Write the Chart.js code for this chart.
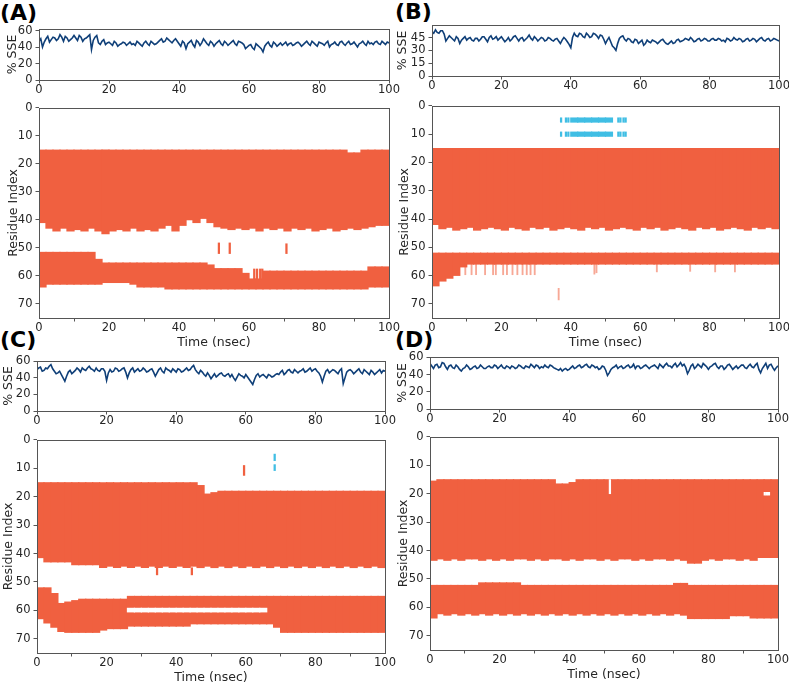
<!DOCTYPE html>
<html>
<head>
<meta charset="utf-8">
<script src="https://cdn.jsdelivr.net/npm/chart.js@4.4.0/dist/chart.umd.min.js"></script>
<style>
  body { margin: 0; background: #fff; }
  #fig { position: relative; width: 789px; height: 688px; overflow: hidden; background: #fff; }
  .box { position: absolute; }
  .tag { position: absolute; font-family: "DejaVu Sans"; font-weight: bold; font-size: 22px; line-height: 22px; color: #000; }
</style>
</head>
<body>
<div id="fig">
  <div class="tag" style="left:0px;top:2px">(A)</div>
  <div class="tag" style="left:395px;top:1px">(B)</div>
  <div class="tag" style="left:0px;top:329px">(C)</div>
  <div class="tag" style="left:395px;top:329px">(D)</div>
</div>
<script>
// time axis of the % SSE traces (nsec)
var timeNs = [0,0.5,1,1.5,2,2.5,3,3.5,4,4.5,5,5.5,6,6.5,7,7.5,8,8.5,9,9.5,
  10,10.5,11,11.5,12,12.5,13,13.5,14,14.5,15,15.5,16,16.5,17,17.5,18,18.5,19,19.5,
  20,20.5,21,21.5,22,22.5,23,23.5,24,24.5,25,25.5,26,26.5,27,27.5,28,28.5,29,29.5,
  30,30.5,31,31.5,32,32.5,33,33.5,34,34.5,35,35.5,36,36.5,37,37.5,38,38.5,39,39.5,
  40,40.5,41,41.5,42,42.5,43,43.5,44,44.5,45,45.5,46,46.5,47,47.5,48,48.5,49,49.5,
  50,50.5,51,51.5,52,52.5,53,53.5,54,54.5,55,55.5,56,56.5,57,57.5,58,58.5,59,59.5,
  60,60.5,61,61.5,62,62.5,63,63.5,64,64.5,65,65.5,66,66.5,67,67.5,68,68.5,69,69.5,
  70,70.5,71,71.5,72,72.5,73,73.5,74,74.5,75,75.5,76,76.5,77,77.5,78,78.5,79,79.5,
  80,80.5,81,81.5,82,82.5,83,83.5,84,84.5,85,85.5,86,86.5,87,87.5,88,88.5,89,89.5,
  90,90.5,91,91.5,92,92.5,93,93.5,94,94.5,95,95.5,96,96.5,97,97.5,98,98.5,99,99.5,
  100];

// % SSE per panel
var sseA = [47,50,40,46,50,53,46,49,52,51, 48,50,55,52,47,53,51,47,49,51,
  54,51,48,54,52,47,50,51,53,55, 37,48,52,54,45,43,47,49,43,45,
  46,44,42,47,45,41,43,44,46,45, 42,44,46,43,44,42,47,45,43,41,
  45,47,44,42,47,45,43,44,46,48, 50,46,47,51,49,47,45,48,50,47,
  44,41,47,45,38,44,46,48,43,40, 48,46,42,45,50,47,44,42,47,45,
  41,44,46,48,44,42,47,45,42,44, 46,48,44,42,47,46,45,43,38,40,
  42,43,39,37,44,42,40,38,34,41, 44,46,42,40,46,44,41,43,45,42,
  44,46,42,44,45,42,43,45,46,44, 41,43,45,47,44,42,47,45,43,41,
  46,45,44,42,45,47,40,43,44,46, 43,42,46,47,44,42,45,47,43,44,
  46,43,40,44,45,47,44,42,47,44, 45,43,46,47,44,43,47,45,43,46,
  45];
var sseB = [52,50,54,51,50,53,53,49,41,44, 47,45,43,41,46,44,38,42,44,46,
  42,44,45,42,41,44,44,41,43,46, 46,43,40,45,47,43,44,46,42,44,
  46,43,40,42,45,41,43,46,47,44, 41,44,45,41,43,45,48,44,42,46,
  44,41,43,45,44,41,42,45,44,42, 41,43,44,41,38,42,45,43,40,37,
  33,45,50,47,46,50,49,46,45,50, 48,45,46,50,49,47,44,48,47,43,
  38,42,45,40,35,33,30,38,44,46, 47,43,41,44,43,40,39,43,42,38,
  40,42,36,38,42,40,39,42,41,40, 38,40,42,43,40,38,37,39,41,38,
  39,42,43,40,41,42,44,43,42,45, 43,40,41,43,44,41,42,44,43,41,
  41,43,44,42,42,44,43,41,42,40, 44,43,41,42,45,43,42,44,43,40,
  41,43,44,41,42,44,43,40,42,44, 45,42,41,43,44,41,42,44,43,42,
  41];
var sseC = [50,52,53,48,49,52,51,54,56,51, 48,45,46,48,44,40,36,42,47,49,
  45,47,49,52,50,47,52,50,49,52, 54,51,50,48,52,49,48,51,51,48,
  37,46,50,47,48,52,51,48,49,51, 52,47,40,46,50,52,47,49,51,48,
  49,52,50,47,48,50,51,47,42,46, 50,52,48,46,52,50,49,47,51,49,
  47,51,50,47,48,50,52,49,50,53, 55,50,47,45,49,47,44,42,46,43,
  39,42,45,41,43,45,46,43,42,44, 45,41,44,40,37,41,45,43,42,40,
  44,41,38,35,32,38,43,45,41,43, 44,42,40,44,43,41,42,44,45,44,
  47,49,44,46,49,50,47,46,50,48, 46,48,49,51,47,48,50,52,48,50,
  51,48,46,42,35,42,48,50,46,48, 50,49,47,45,49,51,33,40,47,49,
  50,48,45,47,49,51,47,45,50,48, 46,44,49,47,44,46,48,50,46,49,
  48];
var sseD = [53,50,47,51,52,48,49,54,53,49, 46,50,51,48,47,51,49,46,44,47,
  48,51,49,46,47,49,50,47,48,51, 49,47,47,49,50,48,48,51,50,47,
  49,51,48,47,50,49,47,50,49,47, 48,51,50,48,47,50,49,48,52,50,
  48,51,50,47,49,48,51,49,48,51, 50,48,47,46,45,47,44,46,47,45,
  46,48,50,47,48,50,51,48,49,51, 52,49,48,51,50,48,49,46,47,50,
  49,45,39,42,46,48,49,51,47,49, 50,47,48,50,51,48,49,52,47,50,
  50,47,48,50,51,49,47,49,50,51, 49,47,52,50,48,51,53,50,50,48,
  51,53,49,51,54,50,52,48,41,45, 50,52,47,49,52,50,48,53,51,49,
  46,49,50,52,53,49,47,50,50,46, 48,51,52,49,46,48,50,47,49,51,
  51,48,47,50,52,49,48,51,53,46, 42,47,50,53,47,51,52,48,45,48,
  50];

// tick labels
var timeTicks = [0,20,40,60,80,100];
var sseTicks = [0,20,40,60];
var sseTicksB = [0,15,30,45];
var resTicks = [0,10,20,30,40,50,60,70];

// 2 ns bins (centres) for the residue maps
var binNs = [1,3,5,7,9,11,13,15,17,19,21,23,25,27,29,31,33,35,37,39,41,43,45,47,49,
  51,53,55,57,59,61,63,65,67,69,71,73,75,77,79,81,83,85,87,89,91,93,95,97,99];

// panel A: helix bands (first / last residue per bin)
var helixTopA = [15,15,15,15,15,15,15,15,15,15, 15,15,15,15,15,15,15,15,15,15, 15,15,15,15,15,15,15,15,15,15,
  15,15,15,15,15,15,15,15,15,15, 15,15,15,15,16,16,15,15,15,15];
var helixBotA = [41,43,44,43,44,43.5,44,43,44,45, 44,43.5,44,43,44,43.5,44,43,42,44, 42,40,41,39.5,41,42.5,43,43.5,43,43.5,
  43,44,43,43.5,43,44,43,43.5,43,44, 43.5,43,44,43.5,43,43.5,43,42.5,42,42];
var lowTopA = [51.5,51.5,51.5,51.5,51.5,51.5,51.5,51.5,54,55.3, 55.3,55.3,55.3,55.3,55.3,55.3,55.3,55.3,55.3,55.3,
  55.3,55.3,55.3,55.3,56,57.3,57.3,57.3,57.3,59, 61,61,58.2,58.2,58.2,58.2,58.2,58.2,58.2,58.2,
  58.2,58.2,58.2,58.2,58.2,58.2,58.2,56.7,56.7,56.7];
var lowBotA = [64,63,63,63,63,63,63,63,63,62.4, 62.4,62.4,62.4,63,64,64,64,64,64.7,64.7,
  64.7,64.7,64.7,64.7,64.7,64.7,64.7,64.7,64.7,64.7, 64.7,64.7,64.7,64.7,64.7,64.7,64.7,64.7,64.7,64.7,
  64.7,64.7,64.7,64.7,64.7,64.7,64.7,64,64,64];
var flickA_t = [51.4,54.5,70.7,61.5,62.3,63.2,63.8];
var flickA_lo = [48.2,48.2,48.5,57.5,57.5,57.5,57.5];
var flickA_hi = [52,52,52,61,61,61,61];

// panel B
var helixTopB = [15,15,15,15,15,15,15,15,15,15, 15,15,15,15,15,15,15,15,15,15, 15,15,15,15,15,15,15,15,15,15,
  15,15,15,15,15,15,15,15,15,15, 15,15,15,15,15,15,15,15,15,15];
var helixBotB = [42,43.5,43,44,43.5,43,44,43.5,43,43.5, 44,43,43.5,44,43,43.5,43,44,43.5,43,
  43.5,44,43,43.5,43,44,43.5,43,43.5,44, 43,43.5,43,44,43.5,43,43.5,44,43,43.5,
  43,44,43.5,43,43.5,44,43,43.5,43,43.5];
var lowTopB = [52,52,52,52,52,52,52,52,52,52, 52,52,52,52,52,52,52,52,52,52, 52,52,52,52,52,52,52,52,52,52,
  52,52,52,52,52,52,52,52,52,52, 52,52,52,52,52,52,52,52,52,52];
var lowBotB = [63.7,62,61,60,57,56,56,56,56,56, 56,56,56,56,56,56,56,56,56,56, 56,56,56,56,56,56,56,56,56,56,
  56,56,56,56,56,56,56,56,56,56, 56,56,56,56,56,56,56,56,56,56];
var flickB_t = [9.6,11.4,12.7,15.3,17.6,18.4,20.5,21.6,23.2,24.6,26.1,27.3,28.4,29.6,36.5,46.8,47.4,64.8,74.4,81.6,87.3];
var flickB_lo = [56,56,56,56,56,56,56,56,56,56,56,56,56,56,64.5,56,56,56,56,56,56];
var flickB_hi = [59.7,59.7,59.7,59.7,59.7,59.7,59.7,59.7,59.7,59.7,59.7,59.7,59.7,59.7,68.6,59.5,59,58.7,58.5,58.7,58.7];
// beta strands (cyan) in panel B
var strandBinsB = [41,43,45,47,49,51];
var strandTicksB = [37.2,38.6,39.3,53.7,54.3,55.2,55.8];
var strandLoB = [4.2, 9.2];
var strandHiB = [5.8, 10.8];

// panel C
var helixTopC = [15,15,15,15,15,15,15,15,15,15, 15,15,15,15,15,15,15,15,15,15, 15,15,15,16,19,18.5,18,18,18,18,
  18,18,18,18,18,18,18,18,18,18, 18,18,18,18,18,18,18,18,18,18];
var helixBotC = [41.5,43,43,43,43,44,44,44,44,45, 44.5,45,44.5,45,44.5,45,44.5,45,44.5,45,
  44.5,45,44.5,45,44.5,45,44.5,45,44.5,45, 44.5,45,44.5,45,44.5,45,44.5,45,44.5,45,
  44.5,45,44.5,45,44.5,45,44.5,45,44.5,45];
var lowTopC = [52,52,54,57.5,57,56.5,56,56,56,56, 56,56,56,55,55,55,55,55,55,55,
  55,55,55,55,55,55,55,55,55,55, 55,55,55,55,55,55,55,55,55,55, 55,55,55,55,55,55,55,55,55,55];
var lowBotC = [63,64.5,66,67.5,67.8,67.8,67.8,67.8,67.8,67, 66.5,66.5,66.5,65.6,65.6,65.6,65.6,65.6,65.6,65.6,
  65.6,65.6,64.8,64.8,64.8,64.8,64.8,64.8,64.8,64.8, 64.8,64.8,64.8,64.8,66,67.8,67.8,67.8,67.8,67.8,
  67.8,67.8,67.8,67.8,67.8,67.8,67.8,67.8,67.8,67.8];
// white stripe (coil) inside the lower band of C
var gapTopC = [null,null,null,null,null,null,null,null,null,null, null,null,null,59.2,59.2,59.2,59.2,59.2,59.2,59.2,
  59.2,59.2,59.2,59.2,59.2,59.2,59.2,59.2,59.2,59.2, 59.2,59.2,59.2,null,null,null,null,null,null,null,
  null,null,null,null,null,null,null,null,null,null];
var gapBotC = [null,null,null,null,null,null,null,null,null,null, null,null,null,60.6,60.6,60.6,60.6,60.6,60.6,60.6,
  60.6,60.6,60.6,60.6,60.6,60.6,60.6,60.6,60.6,60.6, 60.6,60.6,60.6,null,null,null,null,null,null,null,
  null,null,null,null,null,null,null,null,null,null];
var flickC_t = [59.5,34.5,44.5];
var flickC_lo = [9,45,45];
var flickC_hi = [12.5,47.5,47.5];
var strandC_t = [68.3,68.3];
var strandC_lo = [5,8.7];
var strandC_hi = [7.3,10.8];

// panel D
var helixTopD = [15.5,15,15,15,15,15,15,15,15,15, 15,15,15,15,15,15,15,15,16.5,16.5, 16,15,15,15,15,15,15,15,15,15,
  15,15,15,15,15,15,15,15,15,15, 15,15,15,15,15,15,15,15,15,15];
var helixBotD = [43.5,43,43.5,43,43.5,43,43,43.5,43,43.5, 43,43.5,43,43,43.5,43,43.5,43,43,43.5,
  43,43.5,43,43,43.5,43,43.5,43,43,43.5, 43,43.5,43,43,43.5,43,43.5,44.5,44.5,43.5,
  43,43.5,43,43,43.5,43,43.5,42.5,42.5,42.5];
var lowTopD = [52.2,52.2,52.2,52.2,52.2,52.2,52.2,51.3,51.3,51.3, 51.3,51.3,51.3,52.2,52.2,52.2,52.2,52.2,52.2,52.2,
  52.2,52.2,52.2,52.2,52.2,52.2,52.2,52.2,52.2,52.2, 52.2,52.2,52.2,52.2,52.2,51.5,51.5,52.2,52.2,52.2,
  52.2,52.2,52.2,52.2,52.2,52.2,52.2,52.2,52.2,52.2];
var lowBotD = [63.8,62.3,62.8,62.3,62.8,62.3,62.8,62.3,62.8,62.3, 62.8,62.3,62.8,62.3,62.8,62.3,62.8,62.3,62.8,62.3,
  62.8,62.3,62.8,62.3,62.8,62.3,62.8,62.3,62.8,62.3, 62.8,62.3,62.8,62.3,62.8,62.3,62.8,64,64,64,
  64,64,64,63,63,63,63.8,63.8,63.8,63.8];
var holeD_t = [51.7,96.2,96.8,97.4];
var holeD_lo = [15,19.5,19.5,19.5];
var holeD_hi = [20,20.5,20.5,20.5];

// ---------------------------------------------------------------
var HELIX = 'rgb(240,96,64)';
var HELIX_CLARO = 'rgba(240,96,64,0.55)';
var STRAND = 'rgb(64,190,228)';
var LINEA = '#0f3f78';
var MARCO = '#555';
var TXT = '#262626';
var PT = 8, PR = 14;

Chart.defaults.font.family = '"DejaVu Sans"';
Chart.defaults.font.size = 11.5;
Chart.defaults.color = TXT;

// box around the plot area, like matplotlib spines
var marco = {
  id: 'marco',
  afterDraw: function (chart) {
    var a = chart.chartArea, ctx = chart.ctx;
    ctx.save();
    ctx.strokeStyle = MARCO;
    ctx.lineWidth = 1;
    ctx.strokeRect(Math.round(a.left) + 0.5, Math.round(a.top) + 0.5, Math.round(a.right - a.left), Math.round(a.bottom - a.top));
    ctx.restore();
  }
};

function caja(rect, yw, xh) {
  var div = document.createElement('div');
  div.className = 'box';
  div.style.left = (rect[0] - yw) + 'px';
  div.style.top = (rect[1] - PT) + 'px';
  div.style.width = (rect[2] - rect[0] + yw + PR) + 'px';
  div.style.height = (rect[3] - rect[1] + PT + xh) + 'px';
  var c = document.createElement('canvas');
  div.appendChild(c);
  document.getElementById('fig').appendChild(div);
  return c;
}

function fijarTicks(lista) {
  return function (s) {
    s.ticks = lista.map(function (v) { return { value: v }; });
  };
}

function ejeX(xh, titulo, pad) {
  return {
    type: 'linear', min: 0, max: 100, offset: false,
    ticks: { padding: pad, maxRotation: 0, autoSkip: false },
    afterBuildTicks: fijarTicks(timeTicks),
    grid: { drawOnChartArea: false, tickLength: 3.5, color: MARCO },
    border: { display: false },
    title: { display: !!titulo, text: titulo || '', padding: { top: 0, bottom: 2 }, font: { size: 12.5 } },
    afterFit: function (s) { s.height = xh; }
  };
}

function ejeY(yw, max, ticks, reverse, titulo) {
  return {
    type: 'linear', min: 0, max: max, reverse: reverse,
    ticks: { padding: 3, autoSkip: false },
    afterBuildTicks: fijarTicks(ticks),
    grid: { drawOnChartArea: false, tickLength: 3.5, color: MARCO },
    border: { display: false },
    title: { display: true, text: titulo, font: { size: 12.5 } },
    afterFit: function (s) { s.width = yw; }
  };
}

function lineaSSE(rect, yw, max, ticks, valores) {
  var ctx = caja(rect, yw, 20);
  var puntos = [];
  timeNs.forEach(function (t, i) { puntos.push({ x: t, y: valores[i] }); });
  return new Chart(ctx, {
    type: 'line',
    data: { datasets: [{ data: puntos, borderColor: LINEA, borderWidth: 1.6, pointRadius: 0, tension: 0 }] },
    options: {
      responsive: true, maintainAspectRatio: false, animation: false,
      layout: { padding: { top: PT, right: PR } },
      plugins: { legend: { display: false }, tooltip: { enabled: false } },
      scales: { x: ejeX(20, null, 0), y: ejeY(yw, max, ticks, false, '% SSE') }
    },
    plugins: [marco]
  });
}

// bins -> floating bars
function bandas(lo, hi) {
  var out = [];
  binNs.forEach(function (t, i) {
    if (lo[i] !== null && hi[i] !== null) out.push({ x: t, y: [lo[i], hi[i]] });
  });
  return out;
}
function rayas(ts, lo, hi) {
  var out = [];
  ts.forEach(function (t, i) { out.push({ x: t, y: [lo[i], hi[i]] }); });
  return out;
}

function mapaResiduos(rect, yw, sets) {
  var ctx = caja(rect, yw, 34);
  var ancho = (rect[2] - rect[0]) / 50 + 0.6;
  var datasets = sets.map(function (s) {
    return {
      data: s.data,
      backgroundColor: s.color,
      barThickness: s.fino ? (s.fino === true ? 1.6 : s.fino) : ancho,
      grouped: false,
      borderWidth: 0,
      order: s.order
    };
  });
  return new Chart(ctx, {
    type: 'bar',
    data: { datasets: datasets },
    options: {
      responsive: true, maintainAspectRatio: false, animation: false,
      layout: { padding: { top: PT, right: PR } },
      plugins: { legend: { display: false }, tooltip: { enabled: false } },
      scales: { x: ejeX(34, 'Time (nsec)', 0), y: ejeY(yw, 75, resTicks, true, 'Residue Index') }
    },
    plugins: [marco]
  });
}

// (A)
lineaSSE([39, 27, 389, 80], 38, 62, sseTicks, sseA);
mapaResiduos([39, 106, 389, 318], 37, [
  { data: bandas(helixTopA, helixBotA), color: HELIX, order: 2 },
  { data: bandas(lowTopA, lowBotA), color: HELIX, order: 2 },
  { data: rayas(flickA_t, flickA_lo, flickA_hi), color: HELIX, fino: true, order: 1 }
]);

// (B)
lineaSSE([432, 23, 779, 76], 41, 59.8, sseTicksB, sseB);
var strandRows = [];
strandLoB.forEach(function (lo, r) {
  var d = [];
  strandBinsB.forEach(function (t) { d.push({ x: t, y: [lo, strandHiB[r]] }); });
  strandRows.push({ data: d, color: STRAND, order: 2 });
  var f = [];
  strandTicksB.forEach(function (t) { f.push({ x: t, y: [lo, strandHiB[r]] }); });
  strandRows.push({ data: f, color: STRAND, fino: true, order: 1 });
});
mapaResiduos([432, 104, 779, 318], 39, [
  { data: bandas(helixTopB, helixBotB), color: HELIX, order: 2 },
  { data: bandas(lowTopB, lowBotB), color: HELIX, order: 2 },
  { data: rayas(flickB_t, flickB_lo, flickB_hi), color: HELIX_CLARO, fino: 1.2, order: 1 }
].concat(strandRows));

// (C)
lineaSSE([37, 359, 385, 411], 40, 60.5, sseTicks, sseC);
mapaResiduos([37, 438, 385, 653], 40, [
  { data: bandas(helixTopC, helixBotC), color: HELIX, order: 2 },
  { data: bandas(lowTopC, lowBotC), color: HELIX, order: 2 },
  { data: bandas(gapTopC, gapBotC), color: '#fff', order: 0 },
  { data: rayas(flickC_t, flickC_lo, flickC_hi), color: HELIX, fino: true, order: 1 },
  { data: rayas(strandC_t, strandC_lo, strandC_hi), color: STRAND, fino: true, order: 1 }
]);

// (D)
lineaSSE([430, 355, 778, 409], 39, 60.5, sseTicks, sseD);
mapaResiduos([430, 435, 778, 650], 38, [
  { data: bandas(helixTopD, helixBotD), color: HELIX, order: 2 },
  { data: bandas(lowTopD, lowBotD), color: HELIX, order: 2 },
  { data: rayas(holeD_t, holeD_lo, holeD_hi), color: '#fff', fino: true, order: 0 }
]);
</script>
</body>
</html>
